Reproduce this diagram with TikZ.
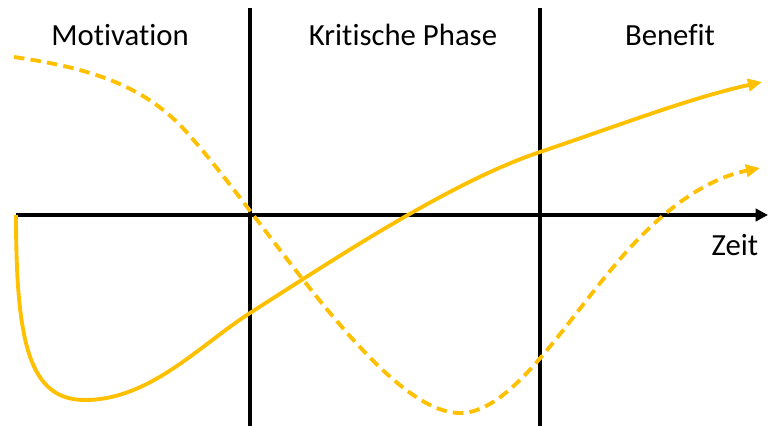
\documentclass[tikz,border=0pt]{standalone}
\usepackage{fontspec}
\setmainfont{Carlito}[Ligatures=NoCommon]
\usepackage{xcolor}
\usetikzlibrary{arrows.meta}
\definecolor{gelb}{HTML}{FFC000}
\tikzset{
  achse/.style={black, line width=2pt},
  kurve/.style={gelb, line width=2.2pt, -{Triangle[length=8pt,width=7pt]}},
  gestrichelt/.style={kurve, dash pattern=on 6pt off 3.5pt},
  phase/.style={anchor=base, font=\fontsize{17.5}{20}\selectfont}
}

\begin{document}
\begin{tikzpicture}[x=0.02cm, y=-0.02cm]
\useasboundingbox (0,0) rectangle (768,426);
% Achsen
\coordinate (start) at (16,215);
\coordinate (ende) at (768,215);
\draw[achse, -{Triangle[length=7pt,width=7pt]}] (start) -- (ende);
\coordinate (t1) at (250,8);
\coordinate (b1) at (250,426);
\coordinate (t2) at (540,8);
\coordinate (b2) at (540,426);
\draw[achse] (t1) -- (b1);
\draw[achse] (t2) -- (b2);
% Phasen
\node[phase] (motiv) at (120,45) {Motivation};
\node[phase] (krit) at (403,45) {Kritische Phase};
\node[phase] (bene) at (670,45) {Benefit};
\node[phase] (zeit) at (735,255) {Zeit};
% Kurven
\draw[kurve] (start) .. controls (16,345) and (30,400) .. (85,400)
  .. controls (150,400) and (200,345) .. (250,313)
  .. controls (330,262) and (450,182) .. (540,152)
  .. controls (620,125) and (690,98) .. (762,82);
\draw[gestrichelt] (14,57) .. controls (90,68) and (140,85) .. (180,125)
  .. controls (260,210) and (380,413) .. (460,413)
  .. controls (510,413) and (560,330) .. (615,265)
  .. controls (665,205) and (710,178) .. (760,168);
\end{tikzpicture}
\end{document}
